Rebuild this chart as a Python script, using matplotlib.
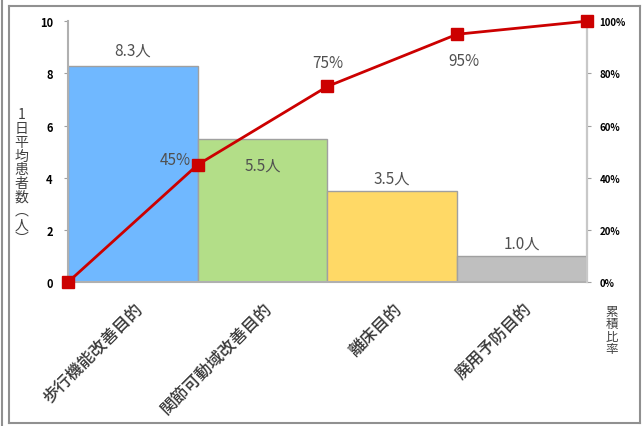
import numpy as np
import matplotlib
matplotlib.use("Agg")
import matplotlib.pyplot as plt
from matplotlib.lines import Line2D

plt.rcParams['font.family'] = ['Noto Sans CJK JP', 'DejaVu Sans']

# データ
categories = ["歩行機能改善目的", "関節可動域改善目的", "離床目的", "廃用予防目的"]
patients = [8.3, 5.5, 3.5, 1.0]
bar_labels = ["8.3人", "5.5人", "3.5人", "1.0人"]
cum_ratio = [0, 45, 75, 95, 100]
cum_labels = ["", "45%", "75%", "95%", ""]
colors = ["#70B8FF", "#B3DE88", "#FFD966", "#BFBFBF"]

fig = plt.figure(figsize=(6.42, 4.27), dpi=100)
ax = fig.add_axes([0.106, 0.337, 0.808, 0.611])

x = np.arange(len(patients))
ax.bar(x + 0.5, patients, width=1.0, color=colors, edgecolor="#A0A0A0", linewidth=1)
ax.set_xlim(0, len(patients))
ax.set_ylim(0, 10)
ax.set_yticks([0, 2, 4, 6, 8, 10])
ax.tick_params(axis="y", labelsize=8, length=3, color="#A0A0A0", pad=8)
for t in ax.get_yticklabels():
    t.set_fontweight("bold")
ax.set_xticks(x + 0.5)
ax.set_xticklabels(categories, rotation=45, ha="right", va="top",
                   rotation_mode="anchor", fontsize=12, color="#383838",
                   fontweight="medium")
ax.tick_params(axis="x", length=0, pad=12)
for s in ["left", "bottom", "right"]:
    ax.spines[s].set_color("#B0B0B0")
    ax.spines[s].set_linewidth(1.5)
ax.spines["top"].set_visible(False)

# 棒のラベル
offsets = [0.6, -1.0, 0.5, 0.5]
for i, v in enumerate(patients):
    ax.text(i + 0.5, v + offsets[i], bar_labels[i], ha="center", va="center",
            fontsize=11, color="#505050")

# 累積比率
ax2 = ax.twinx()
ax2.set_ylim(0, 100)
ax2.set_yticks([0, 20, 40, 60, 80, 100])
ax2.set_yticklabels([f"{v}%" for v in [0, 20, 40, 60, 80, 100]])
ax2.tick_params(axis="y", labelsize=7, length=3, color="#A0A0A0", pad=6)
for t in ax2.get_yticklabels():
    t.set_fontweight("bold")
for s in ["left", "bottom", "top"]:
    ax2.spines[s].set_visible(False)
ax2.spines["right"].set_color("#C8C8C8")
ax2.spines["right"].set_linewidth(1.5)
ax2.plot(np.arange(len(cum_ratio)), cum_ratio, color="#CC0000", linewidth=2,
         marker="s", markersize=8, clip_on=False, zorder=5)

pos = [None, (-0.17, 2), (0.0, 9), (0.05, -10), None]
for i, lab in enumerate(cum_labels):
    if lab:
        dx, dy = pos[i]
        ax2.text(i + dx, cum_ratio[i] + dy, lab, ha="center", va="center",
                 fontsize=11, color="#505050")

# 軸ラベル（縦書き）
fig.text(0.033, 0.585, "\n".join("1日平均患者数") + "\n︵\n人\n︶", ha="center",
         va="center", fontsize=10, color="#404040", linespacing=0.98)
fig.text(0.953, 0.225, "\n".join("累積比率"), ha="center", va="center",
         fontsize=9, color="#404040", linespacing=0.95)

# 外枠
W, H = 642, 427
frame_color = "#909090"
for xs, ys in [([2, 2], [0, 427]), ([9, 9], [7, 424]), ([9, 640], [7, 7]),
               ([9, 640], [424, 424]), ([640, 640], [7, 424])]:
    fig.add_artist(Line2D([v / W for v in xs], [1 - v / H for v in ys],
                          color=frame_color, linewidth=1.5))

fig.savefig("out.png", dpi=100)
